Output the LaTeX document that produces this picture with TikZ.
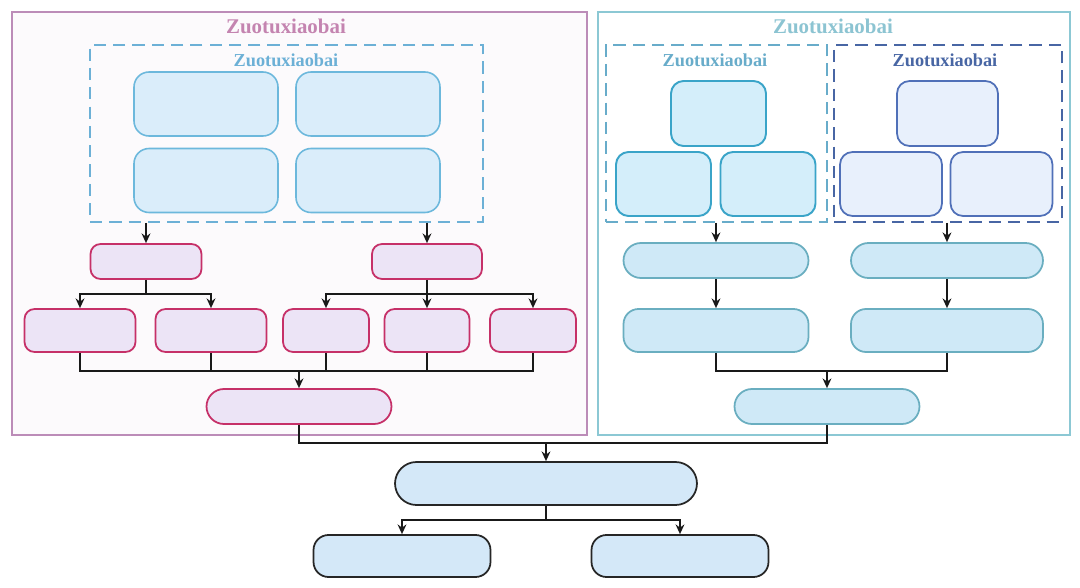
\documentclass[tikz,border=0pt]{standalone}
\usepackage{fontspec}
\setmainfont{Liberation Serif}
\usetikzlibrary{arrows.meta}

\definecolor{pinkframe}{RGB}{188,140,184}
\definecolor{pinktitle}{RGB}{196,132,176}
\definecolor{cyanframe}{RGB}{140,200,212}
\definecolor{cyantitle}{RGB}{140,196,210}
\definecolor{dashblue}{RGB}{108,176,214}
\definecolor{dashteal}{RGB}{104,172,202}
\definecolor{dashnavy}{RGB}{72,102,164}
\definecolor{crimson}{RGB}{198,48,104}
\definecolor{lavender}{RGB}{236,228,246}
\definecolor{skyfill}{RGB}{218,237,250}
\definecolor{skyline}{RGB}{108,184,220}
\definecolor{tealline}{RGB}{58,164,200}
\definecolor{tealfill}{RGB}{212,238,250}
\definecolor{navyline}{RGB}{80,112,184}
\definecolor{navyfill}{RGB}{232,240,252}
\definecolor{aqualine}{RGB}{106,174,192}
\definecolor{aquafill}{RGB}{207,233,247}
\definecolor{basefill}{RGB}{212,232,248}

\tikzset{
  frame/.style={draw, line width=1.2pt, minimum height=8.46cm},
  dashframe/.style={draw, dashed, dash pattern=on 7pt off 4pt, line width=1.1pt, minimum height=3.54cm},
  title/.style={font=\bfseries\fontsize{11.9}{14}\selectfont},
  subtitle/.style={font=\bfseries\fontsize{10.4}{12}\selectfont},
  skybox/.style={draw=skyline, fill=skyfill, line width=0.9pt, rounded corners=0.3cm, minimum width=2.88cm, minimum height=1.28cm},
  tealbox/.style={draw=tealline, fill=tealfill, line width=1.1pt, rounded corners=0.25cm, minimum height=1.28cm},
  navybox/.style={draw=navyline, fill=navyfill, line width=1pt, rounded corners=0.25cm, minimum height=1.28cm},
  pinkbox/.style={draw=crimson, fill=lavender, line width=1pt, rounded corners=0.2cm},
  aquabox/.style={draw=aqualine, fill=aquafill, line width=1pt},
  basebox/.style={draw=black!85, fill=basefill, line width=1pt},
  link/.style={draw=black!90, line width=1.2pt},
  arr/.style={link, -{Stealth[length=5.5pt,width=5pt]}}
}

\begin{document}
\begin{tikzpicture}[x=0.02cm,y=-0.02cm]
\useasboundingbox[fill=white] (0,0) rectangle (1080,588);

% frames
\node[frame, draw=pinkframe, fill=pinkframe!4, minimum width=11.5cm] (boxL) at (299.5,223.5) {};
\node[frame, draw=cyanframe, fill=white, minimum width=9.44cm] (boxR) at (834,223.5) {};
\node[title, text=pinktitle] (titleL) at (286,26) {Zuotuxiaobai};
\node[title, text=cyantitle] (titleR) at (833,26) {Zuotuxiaobai};

\node[dashframe, draw=dashblue, minimum width=7.86cm] (dA) at (286.5,133.5) {};
\node[dashframe, draw=dashteal, minimum width=4.42cm] (dB) at (716.5,133.5) {};
\node[dashframe, draw=dashnavy, minimum width=4.56cm] (dC) at (948,133.5) {};
\node[subtitle, text=dashblue] (titleA) at (286,60) {Zuotuxiaobai};
\node[subtitle, text=dashteal] (titleB) at (715,60) {Zuotuxiaobai};
\node[subtitle, text=dashnavy] (titleC) at (945,60) {Zuotuxiaobai};

% blocks inside dashed frames
\node[skybox] (a1) at (206,104) {};
\node[skybox] (a2) at (368,104) {};
\node[skybox] (a3) at (206,180.5) {};
\node[skybox] (a4) at (368,180.5) {};

\node[tealbox, minimum width=1.9cm, minimum height=1.3cm] (b1) at (718.5,113.5) {};
\node[tealbox, minimum width=1.9cm] (b2) at (663.5,184) {};
\node[tealbox, minimum width=1.9cm] (b3) at (768,184) {};

\node[navybox, minimum width=2.02cm, minimum height=1.3cm] (c1) at (947.5,113.5) {};
\node[navybox, minimum width=2.04cm] (c2) at (891,184) {};
\node[navybox, minimum width=2.04cm] (c3) at (1001.5,184) {};

% left branch
\node[pinkbox, minimum width=2.22cm, minimum height=0.7cm] (p1) at (146,261.5) {};
\node[pinkbox, minimum width=2.2cm, minimum height=0.7cm] (p2) at (427,261.5) {};
\node[pinkbox, minimum width=2.22cm, minimum height=0.86cm] (q1) at (80,330.5) {};
\node[pinkbox, minimum width=2.22cm, minimum height=0.86cm] (q2) at (211,330.5) {};
\node[pinkbox, minimum width=1.72cm, minimum height=0.86cm] (q3) at (326,330.5) {};
\node[pinkbox, minimum width=1.7cm, minimum height=0.86cm] (q4) at (427,330.5) {};
\node[pinkbox, minimum width=1.72cm, minimum height=0.86cm] (q5) at (533,330.5) {};
\node[pinkbox, rounded corners=0.35cm, minimum width=3.7cm, minimum height=0.7cm] (r) at (299,406.5) {};

% right branch
\node[aquabox, rounded corners=0.35cm, minimum width=3.7cm, minimum height=0.7cm] (s1) at (716,260.5) {};
\node[aquabox, rounded corners=0.35cm, minimum width=3.84cm, minimum height=0.7cm] (s2) at (947,260.5) {};
\node[aquabox, rounded corners=0.3cm, minimum width=3.7cm, minimum height=0.86cm] (t1) at (716,330.5) {};
\node[aquabox, rounded corners=0.3cm, minimum width=3.84cm, minimum height=0.86cm] (t2) at (947,330.5) {};
\node[aquabox, rounded corners=0.35cm, minimum width=3.7cm, minimum height=0.7cm] (u) at (827,406.5) {};

% bottom
\node[basebox, rounded corners=0.43cm, minimum width=6.04cm, minimum height=0.86cm] (v) at (546,483.5) {};
\node[basebox, rounded corners=0.3cm, minimum width=3.54cm, minimum height=0.84cm] (w1) at (402,556) {};
\node[basebox, rounded corners=0.3cm, minimum width=3.54cm, minimum height=0.84cm] (w2) at (680,556) {};

% connectors
\coordinate (jp1) at (146,294);
\coordinate (jp2) at (427,294);
\coordinate (jq) at (299,371);
\coordinate (jt) at (827,371);
\coordinate (jb) at (546,443);
\coordinate (jv) at (546,520);

\draw[arr] (dA.south -| p1.north) -- (p1.north);
\draw[arr] (dA.south -| p2.north) -- (p2.north);
\draw[link] (p1.south) -- (jp1);
\draw[arr] (jp1) -| (q1.north);
\draw[arr] (jp1) -| (q2.north);
\draw[link] (p2.south) -- (jp2);
\draw[arr] (jp2) -| (q3.north);
\draw[arr] (jp2) -- (q4.north);
\draw[arr] (jp2) -| (q5.north);
\foreach \q in {q1,q2,q3,q4,q5}
  \draw[link] (\q.south) |- (jq);
\draw[arr] (jq) -- (r.north);

\draw[arr] (dB.south -| s1.north) -- (s1.north);
\draw[arr] (dC.south -| s2.north) -- (s2.north);
\draw[arr] (s1) -- (t1);
\draw[arr] (s2) -- (t2);
\draw[link] (t1.south) |- (jt);
\draw[link] (t2.south) |- (jt);
\draw[arr] (jt) -- (u.north);

\draw[link] (r.south) |- (jb);
\draw[link] (u.south) |- (jb);
\draw[arr] (jb) -- (v.north);
\draw[link] (v.south) -- (jv);
\draw[arr] (jv) -| (w1.north);
\draw[arr] (jv) -| (w2.north);
\end{tikzpicture}
\end{document}
